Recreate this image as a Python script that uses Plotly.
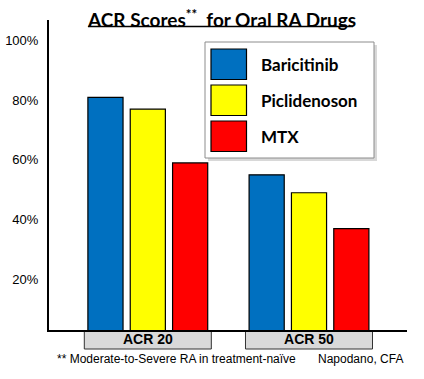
import plotly.graph_objects as go

# ---- data ----
categories = ["ACR 20", "ACR 50"]
series_names = ["Baricitinib", "Piclidenoson", "MTX"]
series_colors = ["#0070C0", "#FFFF00", "#FF0000"]
baricitinib = [81, 55]
piclidenoson = [77, 49]
mtx = [59, 37]
series_values = [baricitinib, piclidenoson, mtx]
y_tick_vals = [20, 40, 60, 80, 100]
y_tick_text = ["20%", "40%", "60%", "80%", "100%"]
title_text = "<b>ACR Scores<sup>**</sup>  for Oral RA Drugs</b>"
footnote_left = "** Moderate-to-Severe RA in treatment-naïve"
footnote_right = "Napodano, CFA"

# ---- geometry (pixel layout of the canvas) ----
W, H = 424, 379
L, R, T, B = 49, 407, 20, 330  # plot area edges in px
PW, PH = R - L, B - T


def px(x):
    return (x - L) / PW


def py(y):
    return (B - y) / PH


fig = go.Figure()
for name, color, vals in zip(series_names, series_colors, series_values):
    fig.add_trace(go.Bar(
        x=categories, y=vals, name=name,
        marker=dict(color=color, line=dict(color="black", width=1.2)),
        showlegend=False,
    ))

shapes = []
annotations = []

# category label boxes under the axis (labels are the x tick labels)
for i, c in enumerate(categories):
    shapes.append(dict(type="rect", xref="x", yref="paper",
                       x0=i - 0.394, x1=i + 0.394,
                       y0=py(349), y1=py(331),
                       fillcolor="#D9D9D9", line=dict(color="#333333", width=1), layer="below"))

# legend box (shadow + frame)
shapes.append(dict(type="rect", xref="paper", yref="paper",
                   x0=px(208), x1=px(377), y0=py(161), y1=py(45),
                   fillcolor="#D8D8D8", line=dict(width=0), layer="above"))
shapes.append(dict(type="rect", xref="paper", yref="paper",
                   x0=px(205), x1=px(374), y0=py(158), y1=py(42),
                   fillcolor="white", line=dict(color="#8C8C8C", width=1), layer="above"))
row_tops = [49, 85, 121]
for name, color, top in zip(series_names, series_colors, row_tops):
    shapes.append(dict(type="rect", xref="paper", yref="paper",
                       x0=px(211), x1=px(246.5), y0=py(top + 30.5), y1=py(top),
                       fillcolor=color, line=dict(color="black", width=1.2), layer="above"))
    annotations.append(dict(x=px(259), y=py(top + 15.5), xref="paper", yref="paper",
                            text="<b>%s</b>" % name, showarrow=False,
                            xanchor="left", yanchor="middle",
                            font=dict(family="Lato", size=17, color="black")))

# title + underline
annotations.append(dict(x=px(221), y=py(18), xref="paper", yref="paper", text=title_text,
                        showarrow=False, xanchor="center", yanchor="middle",
                        font=dict(family="Lato", size=19, color="black")))
shapes.append(dict(type="line", xref="paper", yref="paper",
                   x0=px(88), x1=px(353), y0=py(26.5), y1=py(26.5),
                   line=dict(color="black", width=1.5)))
# footnotes
annotations.append(dict(x=px(55), y=py(359), xref="paper", yref="paper", text=footnote_left,
                        showarrow=False, xanchor="left", yanchor="middle",
                        font=dict(family="Liberation Sans", size=12, color="black")))
annotations.append(dict(x=px(405), y=py(359), xref="paper", yref="paper", text=footnote_right,
                        showarrow=False, xanchor="right", yanchor="middle",
                        font=dict(family="Liberation Sans", size=12, color="black")))

fig.update_layout(
    width=W, height=H,
    margin=dict(l=L, r=W - R, t=T, b=H - B, pad=0, autoexpand=False),
    paper_bgcolor="white", plot_bgcolor="white",
    barmode="group", bargap=0.212, bargroupgap=0.17,
    shapes=shapes, annotations=annotations,
    showlegend=False,
    xaxis=dict(type="category", range=[-0.613, 1.608], showticklabels=True,
               showline=True, linecolor="black", linewidth=2, ticks="",
               ticklabelstandoff=-5,
               tickfont=dict(family="Liberation Sans", size=14, color="black", weight="bold"),
               showgrid=False, zeroline=False, automargin=False),
    yaxis=dict(range=[3.0, 106.9], tickvals=y_tick_vals, ticktext=y_tick_text,
               showline=True, linecolor="black", linewidth=2, ticks="",
               ticklabelstandoff=6, automargin=False,
               showgrid=False, zeroline=False,
               tickfont=dict(family="Liberation Sans", size=13, color="black")),
)

fig.write_html("out.html", config={"displayModeBar": False},
               post_script="document.body.style.margin='0';document.body.style.padding='0';")
